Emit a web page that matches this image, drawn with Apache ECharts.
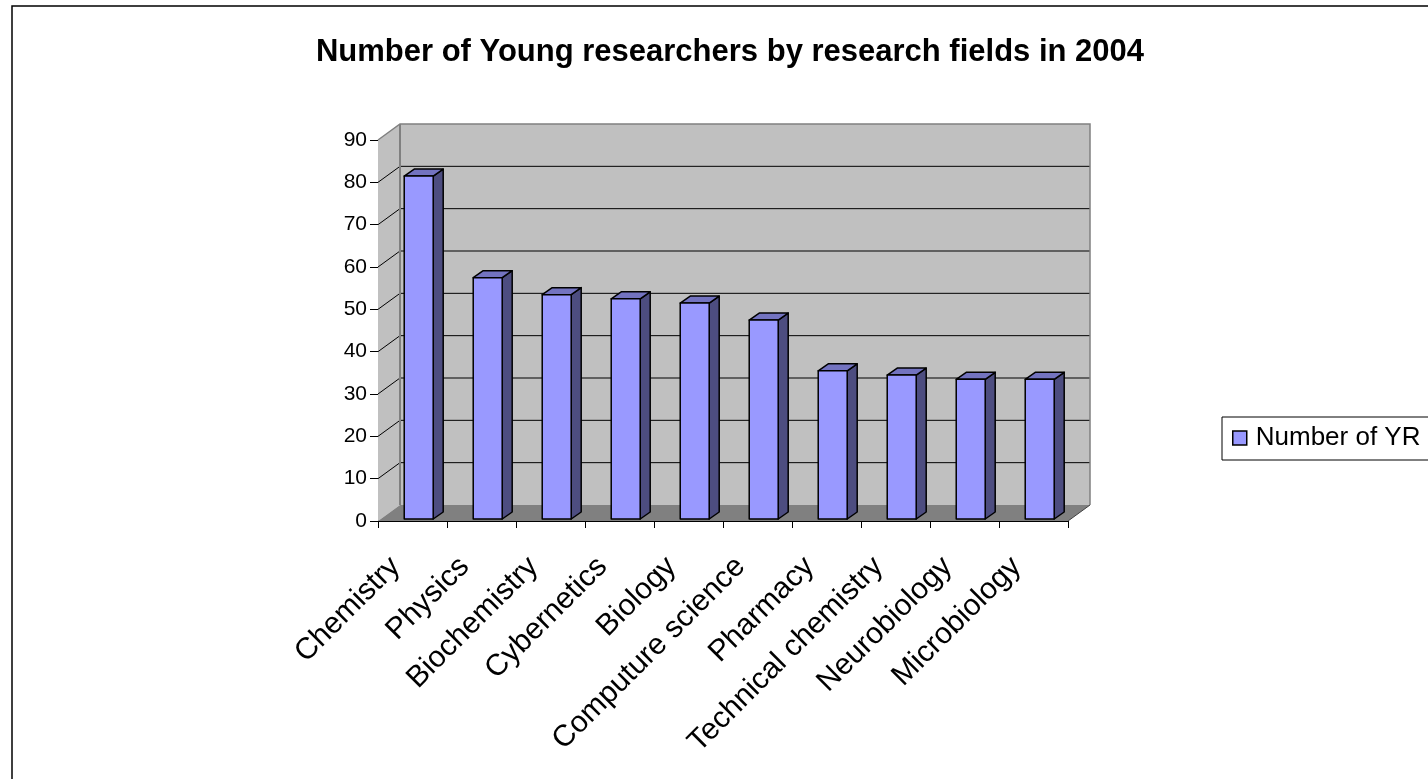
<!DOCTYPE html>
<html>
<head>
<meta charset="utf-8">
<script src="https://cdn.jsdelivr.net/npm/echarts@6/dist/echarts.min.js"></script>
<style>
  html,body{margin:0;padding:0;background:#fff;}
  #chart{width:1428px;height:779px;}
</style>
</head>
<body>
<div id="chart"></div>
<script>
/* Excel-style 3D column chart */
const FONT = "'Liberation Sans', Arial, sans-serif";

const categories = ['Chemistry','Physics','Biochemistry','Cybernetics','Biology',
                    'Computure science','Pharmacy','Technical chemistry','Neurobiology','Microbiology'];
const yrCounts   = [81, 57, 53, 52, 51, 47, 35, 34, 33, 33];
const valueTicks = [0, 10, 20, 30, 40, 50, 60, 70, 80, 90];
const seriesName = 'Number of YR';
const titleText  = 'Number of Young researchers by research fields in 2004';

const WALL = [22, -16];   // depth of the 3D box
const BAR  = [10, -7];    // depth of a column

function walls(params, api){
  const cs = params.coordSys;
  const x0 = cs.x, x1 = cs.x + cs.width, yT = cs.y, yB = cs.y + cs.height;
  const dx = WALL[0], dy = WALL[1];
  const kids = [
    {type:'polygon', shape:{points:[[x0,yT],[x0+dx,yT+dy],[x0+dx,yB+dy],[x0,yB]]},
     style:{fill:'#c0c0c0'}},
    {type:'rect', shape:{x:x0+dx, y:yT+dy, width:cs.width, height:cs.height},
     style:{fill:'#c0c0c0'}},
    {type:'polygon', shape:{points:[[x0,yB],[x0+dx,yB+dy],[x1+dx,yB+dy],[x1,yB]]},
     style:{fill:'#808080'}}
  ];
  valueTicks.slice(1, -1).forEach(v=>{
    const y = api.coord([0, v])[1];
    kids.push({type:'polyline', shape:{points:[[x0,y],[x0+dx,y+dy],[x1+dx,y+dy]]},
      style:{stroke:'#000', lineWidth:1, fill:null}});
  });
  // wall edges
  kids.push({type:'polyline', shape:{points:[[x0,yT],[x0+dx,yT+dy],[x1+dx,yT+dy],[x1+dx,yB+dy]]},
    style:{stroke:'#808080', lineWidth:1.5, fill:null}});
  kids.push({type:'line', shape:{x1:x1+dx, y1:yB+dy, x2:x1, y2:yB},
    style:{stroke:'#404040', lineWidth:1}});
  kids.push({type:'line', shape:{x1:x0+dx, y1:yT+dy, x2:x0+dx, y2:yB+dy},
    style:{stroke:'#808080', lineWidth:2}});
  return {type:'group', children:kids};
}

function column(params, api){
  const i = api.value(0), v = api.value(1);
  const top = api.coord([i, v]), base = api.coord([i, 0]);
  const bw = api.size([1, 0])[0];
  const xL = top[0] - 0.12*bw, xR = xL + 0.42*bw;
  const yT = top[1] - 2, yB = base[1] - 2;
  const dx = BAR[0], dy = BAR[1];
  const edge = {stroke:'#000', lineWidth:1.5, lineJoin:'round'};
  return {type:'group', children:[
    {type:'polygon', shape:{points:[[xR,yT],[xR+dx,yT+dy],[xR+dx,yB+dy],[xR,yB]]},
     style:Object.assign({fill:'#4d4d80'}, edge)},
    {type:'polygon', shape:{points:[[xL,yT],[xL+dx,yT+dy],[xR+dx,yT+dy],[xR,yT]]},
     style:Object.assign({fill:'#7373c0'}, edge)},
    {type:'rect', shape:{x:xL, y:yT, width:xR-xL, height:yB-yT},
     style:Object.assign({fill:'#9999ff'}, edge)}
  ]};
}

const chart = echarts.init(document.getElementById('chart'), null, {renderer:'canvas'});
chart.setOption({
  animation:false,
  textStyle:{fontFamily:FONT, color:'#000'},
  graphic:[
    {type:'rect', shape:{x:12, y:6, width:1500, height:900},
     style:{fill:null, stroke:'#000', lineWidth:1.5}, silent:true},
    {type:'text', x:730, y:52,
     style:{text:titleText, font:'bold 31px '+FONT, fill:'#000', textAlign:'center', textVerticalAlign:'middle'}}
  ],
  legend:{
    data:[{name:seriesName, icon:'rect',
           itemStyle:{color:'#9999ff', borderColor:'#000', borderWidth:1.5}}],
    left:1222, top:417, orient:'vertical',
    padding:[8,10,9,10], itemWidth:14, itemHeight:14, itemGap:8,
    borderColor:'#000', borderWidth:1, backgroundColor:'#fff',
    textStyle:{fontSize:26, color:'#000', fontFamily:FONT, padding:[0,0,0,4]}
  },
  grid:{left:378, top:140, width:690, height:381, containLabel:false},
  xAxis:{
    type:'category', data:categories, boundaryGap:true,
    axisLine:{lineStyle:{color:'#000', width:1}},
    axisTick:{show:true, length:7, lineStyle:{color:'#000'}},
    axisLabel:{rotate:45, interval:0, fontSize:30, color:'#000', margin:24,
               padding:[0,24,0,0], fontFamily:FONT},
    splitLine:{show:false}
  },
  yAxis:{
    type:'value', min:0, max:90, interval:10,
    axisLine:{show:true, lineStyle:{color:'#808080', width:1}},
    axisTick:{show:true, length:8, lineStyle:{color:'#000'}},
    axisLabel:{fontSize:21, color:'#000', margin:11, fontFamily:FONT},
    splitLine:{show:false}
  },
  series:[
    {type:'custom', name:'walls', renderItem:walls, data:[[0,0]], silent:true, z:1},
    {type:'custom', name:seriesName, renderItem:column,
     data:yrCounts.map((v,i)=>[i,v]), encode:{x:0, y:1}, z:2,
     itemStyle:{color:'#9999ff', borderColor:'#000'}}
  ]
});
</script>
</body>
</html>
